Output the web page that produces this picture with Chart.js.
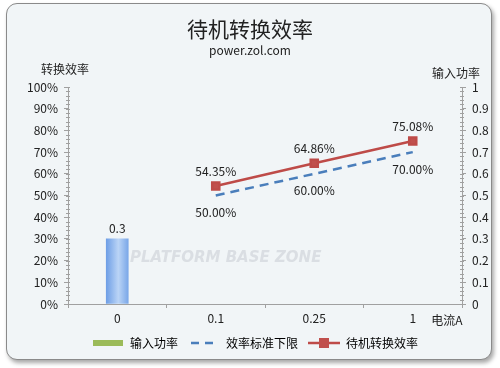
<!DOCTYPE html>
<html lang="zh">
<head>
  <meta charset="UTF-8" />
  <title>待机转换效率</title>
  <script src="https://cdn.jsdelivr.net/npm/chart.js"></script>
  <style>
    body { margin: 0; background: #fff; width: 500px; height: 368px; overflow: hidden; }
    #frame {
      position: absolute; left: 6px; top: 3px; width: 484px; height: 355px;
      border: 1px solid #8a8a8a; border-radius: 11px;
      background: #f1f5f7;
      box-shadow: 2px 3px 4px rgba(0,0,0,0.35);
    }
    #c { position: absolute; left: 0; top: 0; }
  </style>
</head>
<body>
  <div id="frame"></div>
  <canvas id="c" width="500" height="368"></canvas>

  <script>
    const FONT = "'Noto Sans CJK SC', 'Open Sans', sans-serif";

    // data
    const categories = ['0', '0.1', '0.25', '1'];
    const inputPower = [0.3, null, null, null];
    const efficiencyLimit = [null, 50.00, 60.00, 70.00];
    const standbyEfficiency = [null, 54.35, 64.86, 75.08];
    const leftTickLabels = ['0%', '10%', '20%', '30%', '40%', '50%', '60%', '70%', '80%', '90%', '100%'];
    const rightTickLabels = ['0', '0.1', '0.2', '0.3', '0.4', '0.5', '0.6', '0.7', '0.8', '0.9', '1'];

    // small legend symbols
    function legendIcon(kind) {
      const cv = document.createElement('canvas');
      cv.width = 32; cv.height = 12;
      const g = cv.getContext('2d');
      if (kind === 'bar') {
        g.fillStyle = '#9bbb59';
        g.fillRect(1, 3, 30, 6);
      } else if (kind === 'dash') {
        g.strokeStyle = '#4a7ebb';
        g.lineWidth = 2.5;
        g.setLineDash([8, 6]);
        g.beginPath(); g.moveTo(3, 6); g.lineTo(31, 6); g.stroke();
      } else {
        g.strokeStyle = '#be4b48';
        g.lineWidth = 2.5;
        g.beginPath(); g.moveTo(0, 6); g.lineTo(32, 6); g.stroke();
        g.fillStyle = '#c0504d';
        g.fillRect(11, 1, 10, 10);
      }
      return cv;
    }

    // titles, axis captions, minor ticks, value labels
    const decorPlugin = {
      id: 'decor',
      beforeDatasetsDraw(chart) {
        const ctx = chart.ctx;
        ctx.save();
        ctx.fillStyle = 'rgba(190,196,202,0.45)';
        ctx.font = "italic bold 15px 'DejaVu Sans', sans-serif";
        ctx.textAlign = 'left';
        ctx.textBaseline = 'middle';
        ctx.fillText('PLATFORM BASE ZONE', 130, 258);
        ctx.restore();
      },
      afterDraw(chart) {
        const ctx = chart.ctx;
        const area = chart.chartArea;
        const yL = chart.scales.y;
        const yR = chart.scales.y1;
        ctx.save();
        ctx.fillStyle = '#222';
        ctx.textAlign = 'center';
        ctx.textBaseline = 'middle';
        ctx.font = "21px " + FONT;
        ctx.fillText('待机转换效率', 250, 29);
        ctx.font = "12px " + FONT;
        ctx.fillText('power.zol.com', 250, 50);
        ctx.fillText('转换效率', 65, 69);
        ctx.fillText('输入功率', 456, 73);
        ctx.fillText('电流A', 447, 320);

        // minor ticks
        ctx.strokeStyle = '#a0a0a0';
        ctx.lineWidth = 1;
        ctx.beginPath();
        for (let v = 0; v <= 100; v += 2) {
          const py = Math.round(yL.getPixelForValue(v)) + 0.5;
          ctx.moveTo(area.left - 2, py); ctx.lineTo(area.left + 2, py);
          const pr = Math.round(yR.getPixelForValue(v / 100)) + 0.5;
          ctx.moveTo(area.right - 2, pr); ctx.lineTo(area.right + 2, pr);
        }
        ctx.stroke();

        // value labels
        ctx.font = "12px " + FONT;
        ctx.fillStyle = '#222';
        const barMeta = chart.getDatasetMeta(0);
        inputPower.forEach((v, i) => {
          if (v == null) return;
          const el = barMeta.data[i];
          ctx.fillText(String(v), el.x, el.y - 10);
        });
        const limMeta = chart.getDatasetMeta(1);
        efficiencyLimit.forEach((v, i) => {
          if (v == null) return;
          const el = limMeta.data[i];
          ctx.fillText(v.toFixed(2) + '%', el.x, el.y + 17);
        });
        const effMeta = chart.getDatasetMeta(2);
        standbyEfficiency.forEach((v, i) => {
          if (v == null) return;
          const el = effMeta.data[i];
          ctx.fillText(v.toFixed(2) + '%', el.x, el.y - 15);
        });
        ctx.restore();
      }
    };

    const axisGrid = { drawOnChartArea: false, color: '#a0a0a0', tickLength: 4 };

    new Chart(document.getElementById('c'), {
      type: 'bar',
      data: {
        labels: categories,
        datasets: [
          {
            label: '输入功率',
            data: inputPower,
            yAxisID: 'y1',
            backgroundColor: (c) => {
              const sx = c.chart.scales.x;
              const x = sx ? sx.getPixelForValue(c.dataIndex) : NaN;
              if (!isFinite(x)) return '#8fb8ef';
              const g = c.chart.ctx.createLinearGradient(x - 11, 0, x + 11, 0);
              g.addColorStop(0, '#6f9fe6');
              g.addColorStop(0.55, '#bad4f6');
              g.addColorStop(1, '#7aa7e8');
              return g;
            },
            barThickness: 22,
            order: 3
          },
          {
            type: 'line',
            label: '效率标准下限',
            data: efficiencyLimit,
            yAxisID: 'y',
            borderColor: '#4a7ebb',
            borderWidth: 2.5,
            borderDash: [9, 6],
            pointRadius: 0,
            fill: false,
            order: 2
          },
          {
            type: 'line',
            label: '待机转换效率',
            data: standbyEfficiency,
            yAxisID: 'y',
            borderColor: '#be4b48',
            backgroundColor: '#be4b48',
            borderWidth: 2.5,
            pointStyle: 'rect',
            pointRadius: 5,
            pointBorderColor: '#be4b48',
            pointBackgroundColor: '#c0504d',
            fill: false,
            order: 1
          }
        ]
      },
      options: {
        responsive: false,
        animation: false,
        layout: { padding: { left: 14, right: 4, top: 87, bottom: 9 } },
        plugins: {
          title: { display: false },
          tooltip: { enabled: false },
          legend: {
            position: 'bottom',
            labels: {
              font: { family: FONT, size: 12 },
              color: '#222',
              usePointStyle: true,
              pointStyleWidth: 32,
              boxHeight: 12,
              padding: 10,
              generateLabels(chart) {
                return [
                  { text: '输入功率', pointStyle: legendIcon('bar'), datasetIndex: 0 },
                  { text: '效率标准下限', pointStyle: legendIcon('dash'), datasetIndex: 1 },
                  { text: '待机转换效率', pointStyle: legendIcon('line'), datasetIndex: 2 }
                ];
              }
            }
          }
        },
        scales: {
          x: {
            grid: axisGrid,
            border: { color: '#a0a0a0' },
            ticks: { font: { family: FONT, size: 12 }, color: '#222', padding: 3 },
            afterFit(s) { s.height = 23; }
          },
          y: {
            position: 'left',
            min: 0, max: 100,
            grid: axisGrid,
            border: { color: '#a0a0a0' },
            ticks: {
              stepSize: 10,
              font: { family: FONT, size: 12 }, color: '#222',
              callback: (v, i) => leftTickLabels[i],
              padding: 6
            },
            afterFit(s) { s.width = 54; }
          },
          y1: {
            position: 'right',
            min: 0, max: 1,
            grid: axisGrid,
            border: { color: '#a0a0a0' },
            ticks: {
              stepSize: 0.1,
              font: { family: FONT, size: 12 }, color: '#222',
              callback: (v, i) => rightTickLabels[i],
              padding: 6
            },
            afterFit(s) { s.width = 34; }
          }
        }
      },
      plugins: [decorPlugin]
    });
  </script>
</body>
</html>
